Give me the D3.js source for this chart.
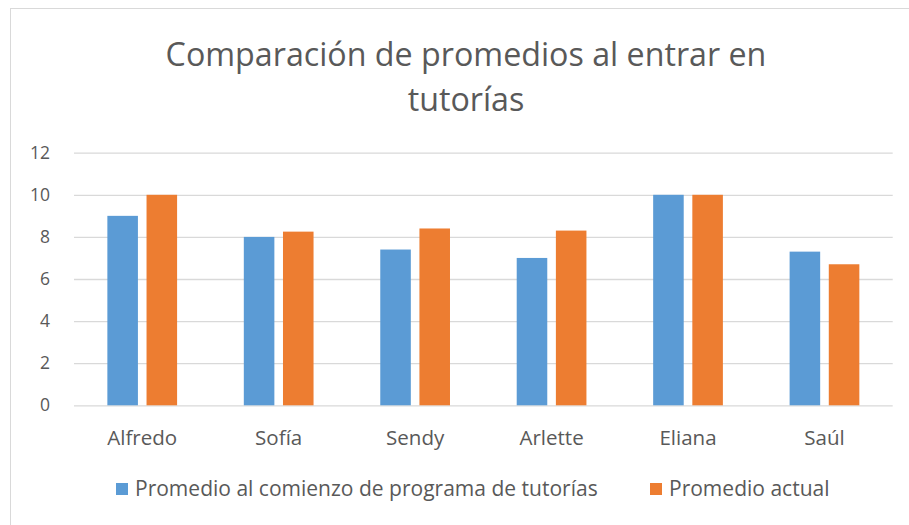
<!DOCTYPE html>
<html><head><meta charset="utf-8">
<script src="https://cdn.jsdelivr.net/npm/d3@7"></script>
<style>html,body{margin:0;padding:0;background:#fff;}svg{display:block;}</style>
</head><body>
<script>
const categories = ["Alfredo", "Sofía", "Sendy", "Arlette", "Eliana", "Saúl"];
const seriesNames = ["Promedio al comienzo de programa de tutorías", "Promedio actual"];
const inicio = [9, 8, 7.4, 7, 10, 7.3];
const actual = [10, 8.25, 8.4, 8.3, 10, 6.7];
const yTicks = [0, 2, 4, 6, 8, 10, 12];
const titleLines = ["Comparación de promedios al entrar en", "tutorías"];
const colors = ["#5b9bd5", "#ed7d31"];

const W = 909, H = 525;
const font = "'Open Sans', sans-serif";
const svg = d3.select("body").append("svg").attr("width", W).attr("height", H);
svg.append("rect").attr("width", W).attr("height", H).attr("fill", "#fff");
svg.append("rect").attr("x", 10.5).attr("y", 8.5).attr("width", W + 20).attr("height", H + 20)
  .attr("fill", "none").attr("stroke", "#d9d9d9").attr("stroke-width", 1);

const plot = {left: 74, right: 892.7, top: 152.7, bottom: 405.3};
const y = d3.scaleLinear().domain([0, 12]).range([plot.bottom, plot.top]);
const x0 = d3.scaleBand().domain(categories).range([plot.left, plot.right])
  .paddingInner(0.489).paddingOuter(0.2445);
const x1 = d3.scaleBand().domain(seriesNames).range([0, x0.bandwidth()]).paddingInner(0.22);

// fit text to a target width by adjusting font size
function fit(sel, target) {
  sel.each(function() {
    const t = d3.select(this);
    const fs = +t.attr("font-size");
    const w = this.getComputedTextLength();
    if (w > 0) t.attr("font-size", (fs * target / w).toFixed(2));
  });
}

// gridlines
const yAxis = d3.axisLeft(y).tickValues(yTicks).tickSize(-(plot.right - plot.left)).tickPadding(24);
const gy = svg.append("g").attr("transform", `translate(${plot.left},0)`).call(yAxis);
gy.select(".domain").remove();
gy.selectAll(".tick line").attr("stroke", "#d9d9d9").attr("stroke-width", 1.3);
gy.selectAll(".tick text").attr("fill", "#595959").attr("font-family", font).attr("font-size", 17.5)
  .attr("text-anchor", "end");

const data = categories.map((c, i) => ({cat: c, vals: [inicio[i], actual[i]]}));
const groups = svg.append("g").selectAll("g").data(data).join("g")
  .attr("transform", d => `translate(${x0(d.cat)},0)`);
groups.selectAll("rect").data(d => d.vals.map((v, j) => ({s: seriesNames[j], v, j}))).join("rect")
  .attr("x", d => x1(d.s)).attr("width", x1.bandwidth())
  .attr("y", d => y(d.v)).attr("height", d => y(0) - y(d.v))
  .attr("fill", d => colors[d.j]);

// x axis
const xAxis = d3.axisBottom(x0).tickSize(0).tickPadding(25);
const gx = svg.append("g").attr("transform", `translate(0,${plot.bottom})`).call(xAxis);
gx.select(".domain").remove();
gx.selectAll(".tick text").attr("fill", "#595959").attr("font-family", font).attr("font-size", 18);
fit(gx.selectAll(".tick text").filter(d => d === "Alfredo"), 70);
const catFs = gx.selectAll(".tick text").filter(d => d === "Alfredo").attr("font-size");
gx.selectAll(".tick text").attr("font-size", catFs);

// title
const tt = svg.append("g").selectAll("text").data(titleLines).join("text")
  .attr("x", 466).attr("y", (d, i) => 66 + i * 45)
  .attr("text-anchor", "middle").attr("fill", "#595959")
  .attr("font-family", font).attr("font-size", 30).text(d => d);
fit(tt.filter((d, i) => i === 0), 601);
tt.attr("font-size", tt.filter((d, i) => i === 0).attr("font-size"));

// legend
const legendX = [116, 650];
const lg = svg.append("g").selectAll("g").data(seriesNames).join("g")
  .attr("transform", (d, i) => `translate(${legendX[i]},483)`);
lg.append("rect").attr("width", 12).attr("height", 12).attr("fill", (d, i) => colors[i]);
const lt = lg.append("text").attr("x", 19).attr("y", 13).attr("fill", "#595959")
  .attr("font-family", font).attr("font-size", 18).text(d => d);
fit(lt.filter((d, i) => i === 0), 463);
lt.attr("font-size", lt.filter((d, i) => i === 0).attr("font-size"));
</script>
</body></html>
